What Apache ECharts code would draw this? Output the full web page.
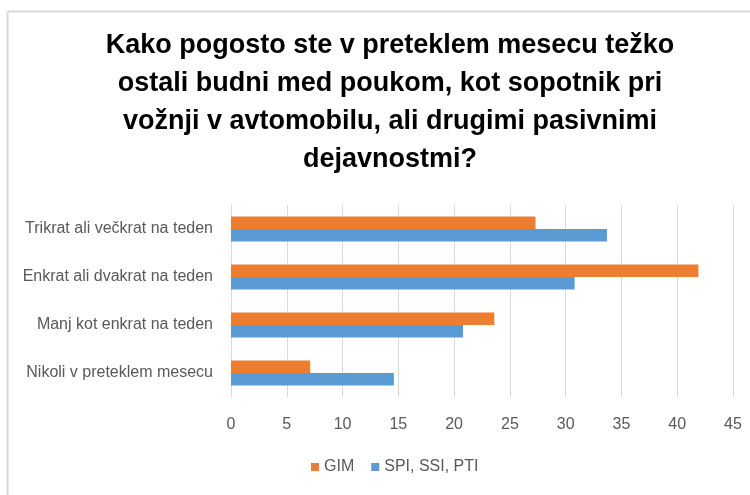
<!DOCTYPE html>
<html>
<head>
<meta charset="utf-8">
<script src="https://cdn.jsdelivr.net/npm/echarts@6/dist/echarts.min.js"></script>
<style>
  html, body { margin: 0; padding: 0; background: #fff; }
  #chart { width: 750px; height: 495px; }
</style>
</head>
<body>
<div id="chart"></div>
<script>
const titleText = "Kako pogosto ste v preteklem mesecu težko\nostali budni med poukom, kot sopotnik pri\nvožnji v avtomobilu, ali drugimi pasivnimi\ndejavnostmi?";
const categories = [
  "Trikrat ali večkrat na teden",
  "Enkrat ali dvakrat na teden",
  "Manj kot enkrat na teden",
  "Nikoli v preteklem mesecu"
];
const gimValues = [27.3, 41.9, 23.6, 7.1];
const spiValues = [33.7, 30.8, 20.8, 14.6];
const xTicks = { min: 0, max: 45, interval: 5 };

const font = "Liberation Sans, Arial";
const chart = echarts.init(document.getElementById("chart"));
chart.setOption({
  animation: false,
  title: {
    text: titleText,
    left: 385,
    textAlign: "center",
    top: 22,
    textStyle: {
      fontFamily: font,
      fontWeight: "bold",
      fontSize: 27,
      lineHeight: 38,
      color: "#000"
    }
  },
  legend: {
    bottom: 15,
    left: 306,
    itemWidth: 8,
    itemHeight: 8,
    itemGap: 17,
    icon: "rect",
    textStyle: { fontFamily: font, fontSize: 16, color: "#595959" },
    data: ["GIM", "SPI, SSI, PTI"]
  },
  grid: { left: 231, right: 17, top: 205, bottom: 98 },
  xAxis: {
    type: "value",
    min: xTicks.min,
    max: xTicks.max,
    interval: xTicks.interval,
    axisLine: { show: false },
    axisTick: { show: false },
    axisLabel: { margin: 20, color: "#595959", fontSize: 16, fontFamily: font },
    splitLine: { lineStyle: { color: "#d9d9d9", width: 1 } }
  },
  yAxis: {
    type: "category",
    inverse: true,
    data: categories,
    axisLine: { lineStyle: { color: "#d9d9d9" } },
    axisTick: { show: false },
    axisLabel: { margin: 18, color: "#595959", fontSize: 16, fontFamily: font }
  },
  series: [
    { name: "GIM", type: "bar", data: gimValues, itemStyle: { color: "#ed7d31" }, barGap: "0%", barCategoryGap: "48%" },
    { name: "SPI, SSI, PTI", type: "bar", data: spiValues, itemStyle: { color: "#5b9bd5" }, barGap: "0%", barCategoryGap: "48%" }
  ],
  graphic: [
    { type: "line", shape: { x1: 7.5, y1: 11.5, x2: 750, y2: 11.5 }, style: { stroke: "#d9d9d9", lineWidth: 2 } },
    { type: "line", shape: { x1: 7.5, y1: 11.5, x2: 7.5, y2: 495 }, style: { stroke: "#d9d9d9", lineWidth: 2 } }
  ]
});
</script>
</body>
</html>
